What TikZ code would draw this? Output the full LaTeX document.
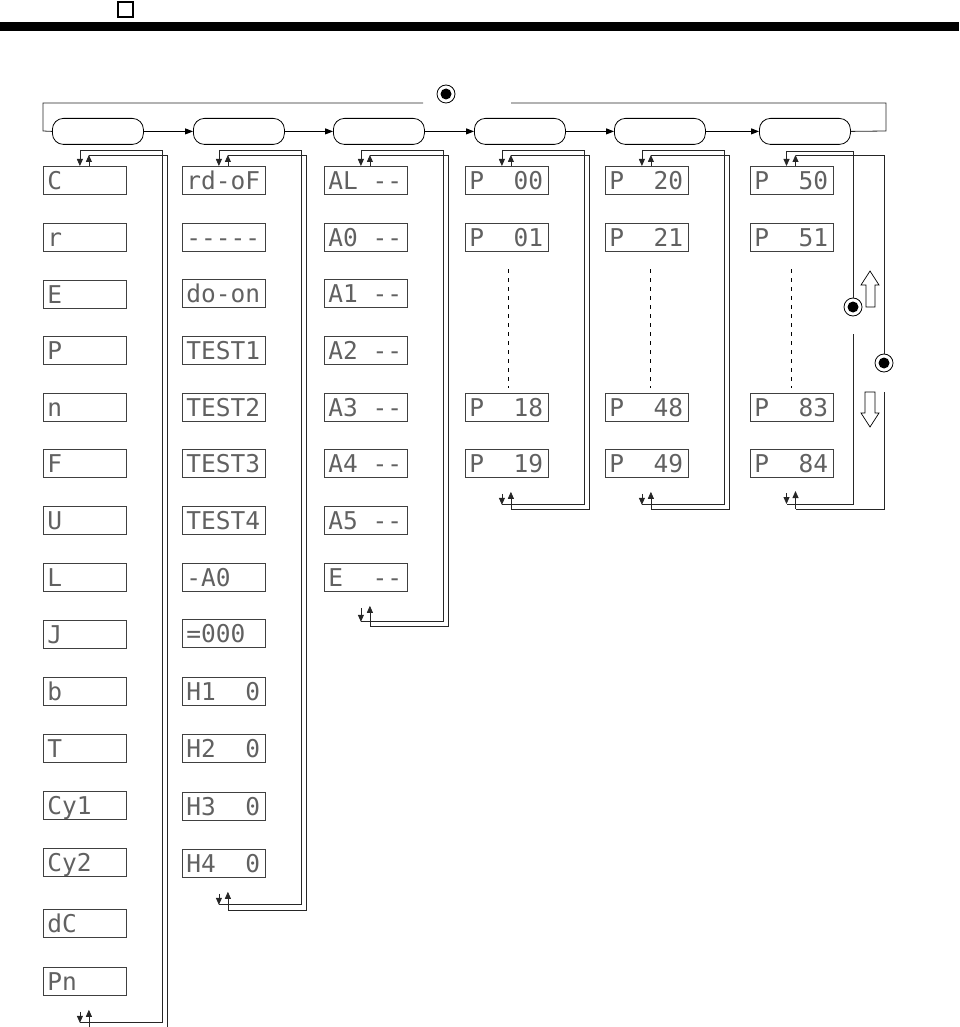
\documentclass[tikz,border=0pt]{standalone}
\usepackage{fontspec}
\newfontfamily\segfont{DejaVu Sans Mono}[Ligatures=TeXOff]
\usetikzlibrary{arrows.meta,calc}
\newcommand\gap{\hspace*{0.602em}}
\newcommand\colloop[4]{%
  \draw[ln] let \p1=(#1.north), \p2=(#2.south), \p3=(#1.east) in
    (\x1-5pt,\y2-#3pt) -- (\x3+36pt,\y2-#3pt) -- (\x3+36pt,\y1+16pt) -- (\x1-5pt,\y1+16pt)
    (\x1+4pt,\y1+11pt) -- (\x3+41pt,\y1+11pt) -- (\x3+41pt,\y2-#4pt) -- (\x1+4pt,\y2-#4pt);
  \draw[ln,arr] let \p1=(#1.north) in (\x1-5pt,\y1+16pt) -- (\x1-5pt,\y1);
  \draw[ln,arr] let \p1=(#1.north) in (\x1+4pt,\y1) -- (\x1+4pt,\y1+11pt);
  \draw[ln,arr] let \p2=(#2.south) in (\x2-5pt,\y2-16pt) -- (\x2-5pt,\y2-#3pt);
  \draw[ln,arr] let \p2=(#2.south) in (\x2+4pt,\y2-#4pt) -- (\x2+4pt,\y2-14pt);
}
\begin{document}
\begin{tikzpicture}[x=1pt,y=-1pt,
  disp/.style={draw=black!75,line width=0.8pt,anchor=north west,minimum height=28pt,
    text width=75pt,inner xsep=4pt,inner ysep=0pt,align=left,text height=18pt,text depth=0pt,
    font=\segfont\fontsize{24.5}{25}\selectfont,text=black!62},
  mode/.style={draw=black,line width=0.8pt,rounded corners=11pt,minimum width=91pt,
    minimum height=26pt,inner sep=0pt,anchor=north west},
  ln/.style={draw=black!85,line width=0.8pt},
  arr/.style={-{Triangle[length=7pt,width=6pt]}},
  btn/.style={circle,draw=black,line width=0.8pt,minimum size=18pt,inner sep=0pt,fill=white},
  dots/.style={draw=black,line width=0.9pt,dash pattern=on 4pt off 5pt},
  hollow/.style={draw=black,line width=0.7pt,fill=white}]
\useasboundingbox (0,0) rectangle (960,1027);
% header
\draw[black,line width=1.3pt] (118,2) rectangle (133,17);
\fill[black] (0,22) rectangle (959,31);
% mode boxes
\foreach \n/\x in {1/52,2/193,3/333,4/474,5/614,6/759}
  \node[mode] (m\n) at (\x,118) {};
\foreach \a/\b in {1/2,2/3,3/4,4/5,5/6}
  \draw[ln,draw=black,line width=1pt,-{Triangle[length=8pt,width=6pt]}] (m\a.east) -- (m\b.west);
% top loop with button
\node[btn] (k0) at (446,94) {};
\fill[black] (k0.center) circle (5.5pt);
\coordinate (tl) at (423,103);
\coordinate (tr) at (511,103);
\draw[ln] (m6.east) -- (886,131) -- (886,103) -- (tr);
\draw[ln] (tl) -- (43,103) -- (43,131) -- (m1.west);
% column 1
\foreach \i/\y/\t in {1/166/C,2/223/r,3/280/E,4/336/P,5/393/n,6/449/F,7/506/U,8/563/L,
  9/620/J,10/677/b,11/734/T,12/791/Cy1,13/848/Cy2,14/909/dC,15/967/Pn}
  \node[disp] (a\i) at (43,\y) {\t};
% column 2
\foreach \i/\y/\t in {1/166/rd-oF,2/223/-----,3/279/do-on,4/336/TEST1,5/393/TEST2,6/449/TEST3,
  7/506/TEST4,8/563/-A0,9/619/=000,10/677/H1\gap\gap0,11/734/H2\gap\gap0,12/792/H3\gap\gap0,13/849/H4\gap\gap0}
  \node[disp] (b\i) at (182,\y) {\t};
% column 3
\foreach \i/\y/\t in {1/166/AL\gap--,2/223/A0\gap--,3/279/A1\gap--,4/336/A2\gap--,5/393/A3\gap--,
  6/449/A4\gap--,7/506/A5\gap--,8/563/E\gap\gap--}
  \node[disp] (c\i) at (324,\y) {\t};
% columns 4-6
\foreach \i/\y/\t in {1/166/00,2/223/01,3/393/18,4/449/19}
  \node[disp] (d\i) at (465,\y) {P\gap\gap\t};
\foreach \i/\y/\t in {1/166/20,2/223/21,3/393/48,4/449/49}
  \node[disp] (e\i) at (605,\y) {P\gap\gap\t};
\foreach \i/\y/\t in {1/166/50,2/223/51,3/393/83,4/449/84}
  \node[disp] (f\i) at (750,\y) {P\gap\gap\t};
% dashed continuation
\draw[dots] (508,269) -- (508,388);
\draw[dots] (650,269) -- (650,388);
\draw[dots] (791,269) -- (791,388);
% loops
\colloop{a1}{a15}{27}{32}
\colloop{b1}{b13}{27}{33}
\colloop{c1}{c8}{30}{35}
\colloop{d1}{d4}{27}{32}
\colloop{e1}{e4}{27}{32}
% column 6 loops with buttons
\node[btn] (kA) at (853,307) {};
\fill[black] (kA.center) circle (5.5pt);
\node[btn] (kB) at (884,363) {};
\fill[black] (kB.center) circle (5.5pt);
\draw[ln] (kA.north) -- (853,151) -- (786.5,151);
\draw[ln,arr] (786.5,151) -- (f1.north -| 786.5,0);
\draw[ln] (853,334) -- (853,504) -- (786.5,504);
\draw[ln,arr] (786.5,493) -- (786.5,504);
\draw[ln,arr] (f1.north -| 795.5,0) -- (795.5,155);
\draw[ln] (795.5,155) -- (884,155) -- (kB.north);
\draw[ln] (884,392) -- (884,509) -- (795.5,509);
\draw[ln,arr] (795.5,509) -- (795.5,491);
% hollow arrows
\draw[hollow] (866,307) -- (866,285) -- (861,285) -- (870,271) -- (879,285) -- (875,285) -- (875,307) -- cycle;
\draw[hollow] (865,392) -- (865,413) -- (861,413) -- (870,427) -- (879,413) -- (875,413) -- (875,392) -- cycle;
\end{tikzpicture}
\end{document}
